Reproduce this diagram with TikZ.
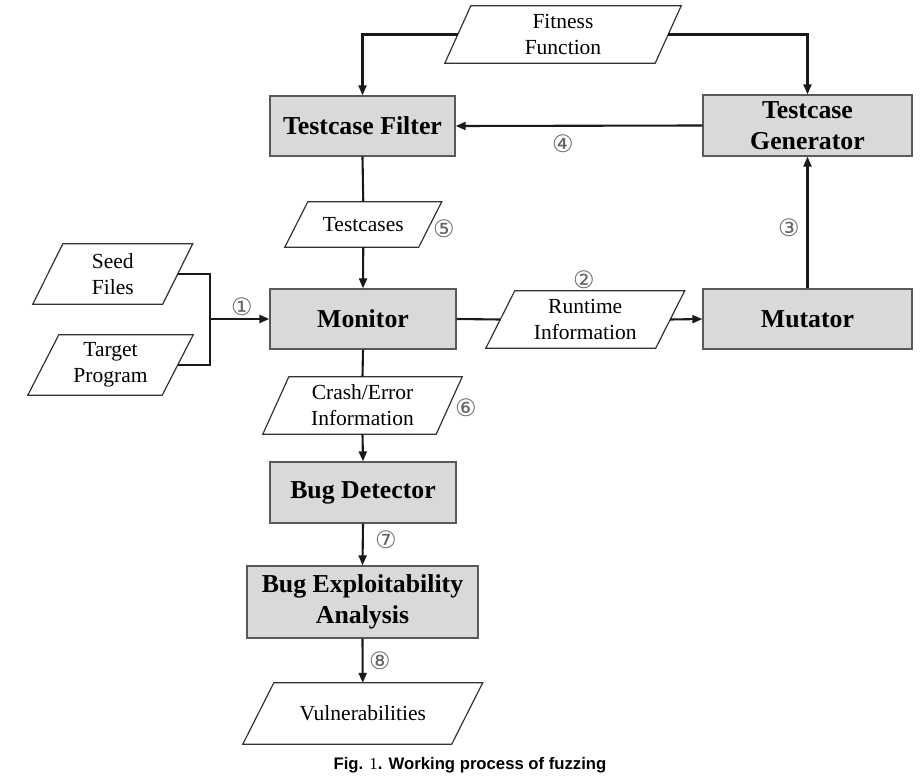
\documentclass[tikz,border=0pt]{standalone}
\usepackage{fontspec}
\setmainfont{Liberation Serif}
\newfontfamily\capfont{Liberation Sans}
\newfontfamily\circfont{DejaVu Sans}
\usetikzlibrary{arrows.meta}
\definecolor{boxgray}{RGB}{217,217,217}
\newcommand\paranode[7]{%
  \node[paratext, minimum width=#4pt, minimum height=#5pt] (#1) at (#2,#3) {#7};
  \draw[parashape] ([xshift=-#6pt]#1.south west) -- ([xshift=#6pt]#1.north west)
     -- ([xshift=#6pt]#1.north east) -- ([xshift=-#6pt]#1.south east) -- cycle;
}
\tikzset{
  paratext/.style={inner sep=0pt, align=center, font=\fontsize{21.5}{26}\selectfont},
  parashape/.style={draw=black!80, line width=1.2pt},
  box/.style={draw=black!65, fill=boxgray, line width=1.3pt, inner sep=0pt, align=center,
    font=\fontsize{25.8}{31}\selectfont\bfseries},
  conn/.style={line width=2.1pt, draw=black!90},
  arr/.style={conn, -{Triangle[length=10pt,width=8pt]}},
  num/.style={font=\circfont\fontsize{24}{24}\selectfont, text=black!60, inner sep=0pt},
}
\begin{document}
\begin{tikzpicture}[x=1pt,y=-1pt]
\useasboundingbox (0,0) rectangle (922,781);
% boxes
\node[box, minimum width=185pt, minimum height=60pt] (filter) at (362.5,126) {Testcase Filter};
\node[box, minimum width=209pt, minimum height=61pt] (gen) at (807.5,125.5) {Testcase\\Generator};
\node[box, minimum width=186pt, minimum height=60pt] (mon) at (363,319) {Monitor};
\node[box, minimum width=209pt, minimum height=60pt] (mut) at (807.5,319) {Mutator};
\node[box, minimum width=186pt, minimum height=61pt] (det) at (363,492.5) {Bug Detector};
\node[box, minimum width=231pt, minimum height=72pt] (bea) at (362.5,602) {Bug Exploitability\\Analysis};
% parallelograms
\paranode{fit}{563}{34.5}{210}{57}{13}{Fitness\\Function}
\paranode{seed}{112.75}{274}{129.5}{60}{15}{Seed\\Files}
\paranode{target}{110.5}{365}{134}{60}{15.5}{Target\\Program}
\paranode{tc}{363.25}{224.5}{133.5}{45}{11.5}{Testcases}
\paranode{rt}{585.25}{319.5}{169.5}{57}{14.5}{Runtime\\Information}
\paranode{crash}{362.5}{405.5}{173}{57}{13}{Crash/Error\\Information}
\paranode{vul}{362.75}{713.5}{208.5}{61}{15.5}{Vulnerabilities}
% connectors
\coordinate (j) at (210,319);
\draw[arr] (fit.west) -| (filter.north);
\draw[arr] (fit.east) -| (gen.north);
\draw[arr] (gen.west) -- (filter.east);
\draw[conn] (filter.south) -- (tc.north);
\draw[arr] (tc.south) -- (mon.north);
\draw[conn] (seed.east) -| (j) |- (target.east);
\draw[arr] (j) -- (mon.west);
\draw[conn] (mon.east) -- (rt.west);
\draw[arr] (rt.east) -- (mut.west);
\draw[arr] (mut.north) -- (gen.south);
\draw[conn] (mon.south) -- (crash.north);
\draw[arr] (crash.south) -- (det.north);
\draw[arr] (det.south) -- (bea.north);
\draw[arr] (bea.south) -- (vul.north);
% step numbers
\node[num] (n1) at (242,307) {①};
\node[num] (n2) at (584,280) {②};
\node[num] (n3) at (789,228) {③};
\node[num] (n4) at (563,144) {④};
\node[num] (n5) at (444,229) {⑤};
\node[num] (n6) at (466,408) {⑥};
\node[num] (n7) at (386,540) {⑦};
\node[num] (n8) at (380,661) {⑧};
% caption
\node[font=\capfont\bfseries\fontsize{16.7}{16.7}\selectfont] (cap) at (470,765)
  {Fig. {\rmfamily\mdseries 1}. Working process of fuzzing};
\end{tikzpicture}
\end{document}
